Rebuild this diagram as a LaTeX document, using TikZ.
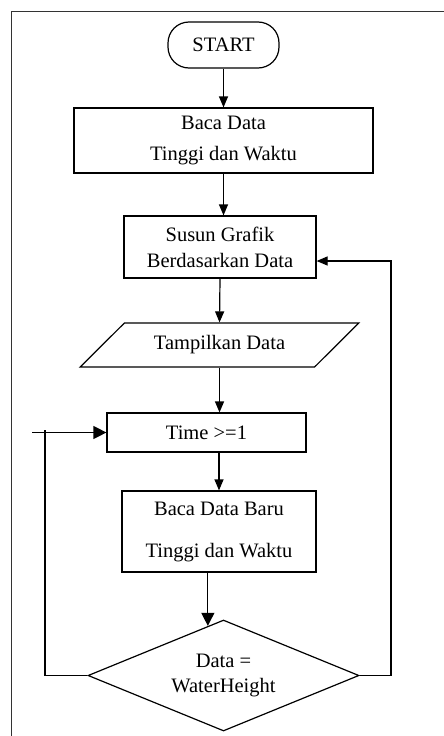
\documentclass[tikz,border=0pt]{standalone}
\usepackage{fontspec}
\setmainfont{Liberation Serif}
\usetikzlibrary{arrows.meta,shapes.geometric,calc}
\begin{document}
\begin{tikzpicture}[x=1pt,y=-1pt,
  every node/.style={font=\fontsize{20.5}{26}\selectfont, align=center},
  box/.style={draw, line width=1.2pt, rectangle, inner sep=2pt},
  arr/.style={line width=1.2pt, -{Triangle[length=11pt,width=9pt]}},
  bigarr/.style={line width=1.2pt, -{Triangle[length=13pt,width=13pt]}},
  conn/.style={line width=1.2pt}]
\useasboundingbox (0,0) rectangle (444,736);
\draw[line width=1.6pt, black!80] (11.5,736) -- (11.5,11.5) -- (444,11.5);
\node[box, rounded corners=21pt, minimum width=111pt, minimum height=46pt] (start) at (223.5,45) {START};
\node[box, minimum width=299pt, minimum height=65pt, font=\fontsize{20.5}{31}\selectfont] (b1) at (223.5,140.5) {Baca Data\\Tinggi dan Waktu};
\node[box, minimum width=192pt, minimum height=62pt] (b2) at (220,247) {Susun Grafik\\Berdasarkan Data};
\node[draw, line width=1.2pt, trapezium, trapezium left angle=38.2, trapezium right angle=141.8, trapezium stretches=true, minimum width=279pt, minimum height=44pt] (para) at (219.5,345) {Tampilkan Data};
\node[box, minimum width=199pt, minimum height=39pt] (time) at (206.5,432.5) {Time >=1};
\node[box, minimum width=194pt, minimum height=81pt, font=\fontsize{20.5}{42}\selectfont] (b3) at (219,531.5) {Baca Data Baru\\Tinggi dan Waktu};
\node[draw, line width=1.2pt, diamond, aspect=2.44, inner sep=0pt, minimum width=271pt, minimum height=111pt, font=\fontsize{20.5}{25}\selectfont] (dia) at (223.5,675.5) {Data =\\WaterHeight};
% straight flow
\draw[arr] (start.south) -- (b1.north);
\draw[arr] (b1.south) -- (b1.south |- b2.north);
\draw[arr] (b2.south) -- (para.north);
\draw[arr] (para.south) -- (para.south |- time.north);
\draw[arr] (time.south -| b3.north) -- (b3.north);
\coordinate (dtop) at ($(dia.north)!0.115!(dia.west)$);
\draw[bigarr] (b3.south -| dtop) -- (dtop);
% right loop
\coordinate (rtop) at (391,261);
\draw[arr] (dia.east) -| (rtop) -- (rtop -| b2.east);
% left loop
\coordinate (lc) at (45,430);
\draw[conn] (dia.west) -| (lc);
\coordinate (ls) at (32,432.5);
\draw[bigarr] (ls) -- (time.west);
\end{tikzpicture}
\end{document}
